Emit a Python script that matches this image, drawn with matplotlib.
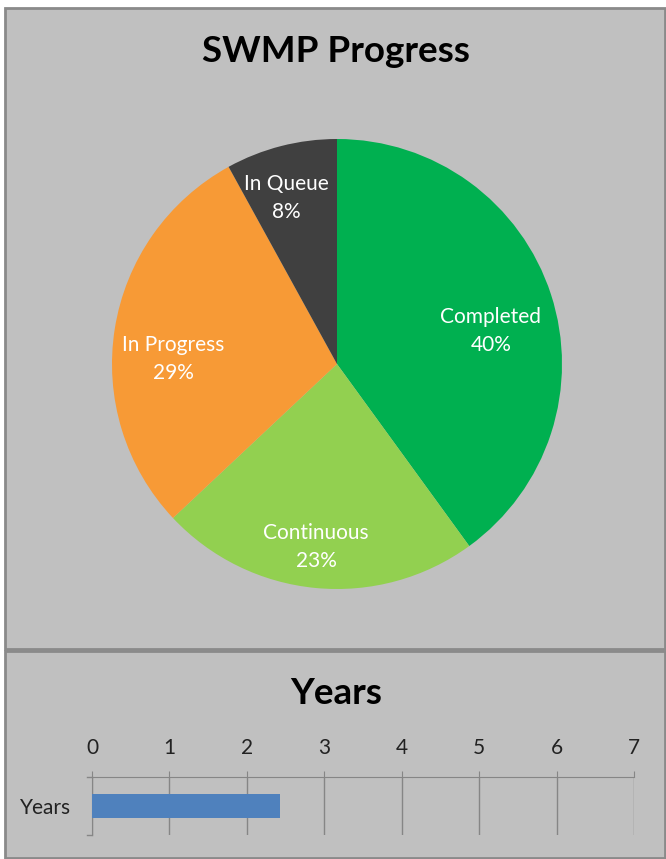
import matplotlib
matplotlib.use("Agg")
import matplotlib.pyplot as plt
from matplotlib.patches import Rectangle

categories = ["Completed", "Continuous", "In Progress", "In Queue"]
shares = [40, 23, 29, 8]
colors = ["#00B050", "#92D050", "#F79A36", "#404040"]
# label offsets within the pie (radius = 1)
label_pos = [(0.684, 0.145), (-0.093, -0.815), (-0.729, 0.021), (-0.227, 0.736)]

bar_cats = ["Years"]
bar_vals = [2.43]
x_ticks = [0, 1, 2, 3, 4, 5, 6, 7]

plt.rcParams['font.family'] = ['Lato', 'DejaVu Sans']

W, H = 666, 859
fig = plt.figure(figsize=(W / 100, H / 100), dpi=100)
fig.patch.set_facecolor("white")

def fx(x): return x / W
def fy(y): return 1 - y / H

bg = "#C0C0C0"
edge = "#8A8A8A"
# top panel
fig.add_artist(Rectangle((fx(5), fy(649)), fx(660), 641 / H, transform=fig.transFigure,
                         facecolor=bg, edgecolor=edge, linewidth=2, zorder=0))
# bottom panel
fig.add_artist(Rectangle((fx(5), fy(858)), fx(660), 207 / H, transform=fig.transFigure,
                         facecolor=bg, edgecolor=edge, linewidth=2, zorder=0))

fig.text(fx(336), fy(52), "SWMP Progress", ha="center", va="center",
         fontsize=26.5, fontweight="bold", color="black")

ax = fig.add_axes([fx(112), fy(589), fx(450), 450 / H])
ax.set_facecolor("none")
wedges, _ = ax.pie(shares, colors=colors, startangle=90, counterclock=False,
                   radius=1.0, wedgeprops=dict(linewidth=0))
for (lx, ly), c, s in zip(label_pos, categories, shares):
    ax.text(lx, ly, f"{c}\n{s}%", ha="center", va="center", color="white",
            fontsize=15, linespacing=1.5)
ax.set_xlim(-1, 1)
ax.set_ylim(-1, 1)
ax.set_aspect("auto")
ax.axis("off")

fig.text(fx(336), fy(693), "Years", ha="center", va="center",
         fontsize=26.5, fontweight="bold", color="black")

bx = fig.add_axes([fx(92), fy(835), fx(542), 58 / H])
bx.set_facecolor("none")
bx.barh(bar_cats, bar_vals, height=0.4, color="#4F81BD", zorder=3)
bx.set_xlim(0, 7)
bx.set_ylim(-0.5, 0.5)
bx.set_xticks(x_ticks)
bx.xaxis.tick_top()
bx.tick_params(axis="x", direction="out", length=4, color="#868686", labelsize=15,
               pad=10, labelcolor="#222222")
bx.tick_params(axis="y", length=0, labelsize=15, pad=15, labelcolor="#222222")
bx.grid(axis="x", color="#868686", linewidth=1, zorder=1)
for s in ["bottom", "right"]:
    bx.spines[s].set_visible(False)
bx.spines["top"].set_color("#868686")
bx.spines["left"].set_color("#868686")
# category boundary ticks on the left axis
bx.plot([-0.01, 0], [0.5, 0.5], color="#868686", lw=1, clip_on=False,
        transform=bx.get_yaxis_transform())
bx.plot([-0.01, 0], [-0.5, -0.5], color="#868686", lw=1, clip_on=False,
        transform=bx.get_yaxis_transform())

fig.savefig("out.png", dpi=100, facecolor=fig.get_facecolor())
